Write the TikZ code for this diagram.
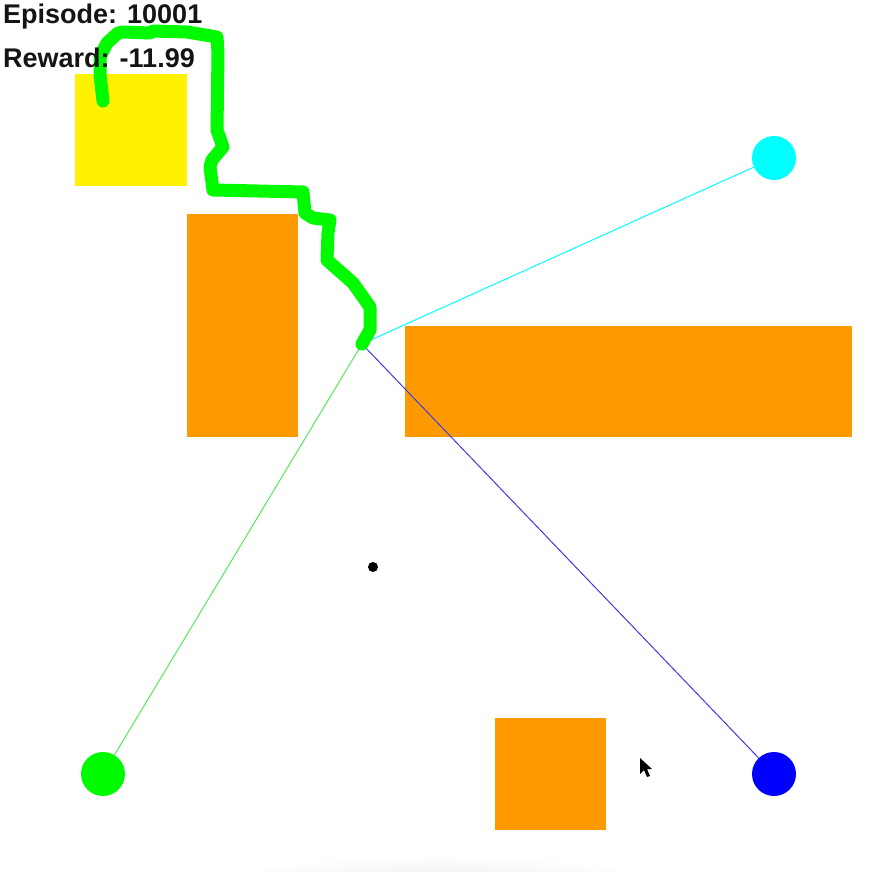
\documentclass[tikz,border=0pt]{standalone}
\usepackage{fontspec}
\setmainfont{Liberation Sans}
\begin{document}
\begin{tikzpicture}[x=1pt,y=-1pt,
  obstacle/.style={fill=orange1},
  goal/.style={circle,inner sep=0pt,minimum size=44pt},
  ray/.style={line width=1pt},
  label/.style={anchor=base west,inner sep=0pt,font=\fontsize{27}{27}\selectfont\bfseries},
  trail/.style={line width=13pt,color=green1,line cap=round,line join=round}]
\definecolor{orange1}{RGB}{255,153,0}
\definecolor{green1}{RGB}{0,250,0}
\definecolor{cyan1}{RGB}{0,255,255}
\definecolor{blue1}{RGB}{0,0,255}
\definecolor{ray1}{RGB}{60,60,230}
\definecolor{ray2}{RGB}{90,230,90}
\definecolor{text1}{RGB}{20,20,20}
\useasboundingbox[fill=white] (0,0) rectangle (879,872);
% bottom shadow
\begin{scope}
\clip (0,0) rectangle (879,872);
\shade[inner color=black!7,outer color=white] (440,885) ellipse [x radius=230pt,y radius=30pt];
\end{scope}
% areas
\fill[fill=yellow] (75,74) rectangle (187,186);
\fill[obstacle] (187,214) rectangle (298,437);
\fill[obstacle] (405,326) rectangle (852,437);
\fill[obstacle] (495,718) rectangle (606,830);
% goals
\node[goal,fill=cyan1] (gc) at (774,158) {};
\node[goal,fill=blue1] (gb) at (774,774) {};
\node[goal,fill=green1] (gg) at (103,774) {};
\coordinate (agent) at (362,344);
% rays
\draw[ray,cyan1] (agent) -- (gc);
\draw[ray,ray1] (agent) -- (gb);
\draw[ray,ray2] (agent) -- (gg);
% trail
\draw[trail] (103,101) -- (100,75) -- (100,57) -- (107,43) -- (118,33) -- (123,32)
  -- (150,33) -- (153,31) -- (187,32) -- (217,37) -- (218,53) -- (217,130)
  -- (223,147) -- (212,160) -- (210,167) -- (213,190) -- (303,192) -- (305,213)
  -- (313,218) -- (330,220) -- (328,233) -- (327,260) -- (353,283) -- (370,307)
  -- (370,330) -- (agent);
% point
\node[circle,fill=black,inner sep=0pt,minimum size=10pt] (dot) at (373,567) {};
% texts
\node[label,text=text1] (ep) at (3,24) {Episode: 10001};
\node[label,text=text1] (rw) at (3,68) {Reward: -11.99};
% cursor
\fill[black] (640,758) -- (640,774) -- (644,770) -- (647,777) -- (650,776) -- (647,769) -- (652,769) -- cycle;
\end{tikzpicture}
\end{document}
